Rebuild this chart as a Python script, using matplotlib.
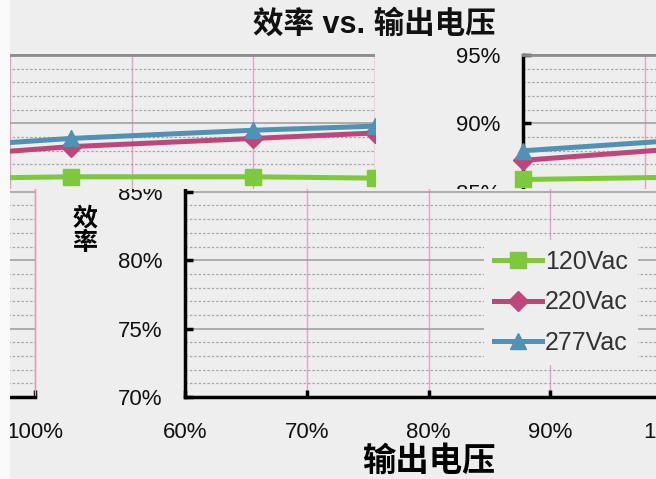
import matplotlib
matplotlib.use('Agg')
import matplotlib.pyplot as plt
from matplotlib.patches import Rectangle
from matplotlib.text import Text
from matplotlib.transforms import Bbox
from matplotlib.ticker import FixedLocator, MultipleLocator, FuncFormatter

# ---- data ----
load_pct = [60, 75, 90, 100]
eff_120 = [85.9, 86.1, 86.1, 86.0]
eff_220 = [87.3, 88.3, 88.9, 89.3]
eff_277 = [88.0, 88.9, 89.5, 89.8]
series_labels = ['120Vac', '220Vac', '277Vac']
x_ticks = [60, 70, 80, 90, 100]
y_ticks = [70, 75, 80, 85, 90, 95]
title = '效率 vs. 输出电压'
x_title = '输出电压'
y_title = '效\n率'

plt.rcParams['font.family'] = ['Liberation Sans', 'Noto Sans CJK SC', 'DejaVu Sans']

W, H = 656, 479
BG = '#eeeeee'
fig = plt.figure(figsize=(W / 100, H / 100), dpi=100, facecolor=BG)

colors = ['#7dc83c', '#be467a', '#5091b4']
markers = ['s', 'D', '^']
msizes = [12, 10, 12]
series = [eff_120, eff_220, eff_277]


def region(x0, y0, x1, y1):
    """clip rectangle given in top-origin pixel coordinates"""
    rect = Rectangle((x0 / W, 1 - y1 / H), (x1 - x0) / W, (y1 - y0) / H,
                     transform=fig.transFigure, facecolor='none', edgecolor='none')
    bbox = Bbox.from_extents(x0, H - y1, x1, H - y0)
    return rect, bbox


def make_axes(shift, with_legend=False):
    ax = fig.add_axes([(185 + shift) / W, 82 / H, 487 / W, 342 / H])
    ax.set_facecolor(BG)
    for vals, lab, c, m, ms in zip(series, series_labels, colors, markers, msizes):
        ax.plot(load_pct, vals, color=c, lw=3.6, marker=m, markersize=ms,
                markeredgecolor=c, label=lab, zorder=5)
    ax.set_xlim(60, 100)
    ax.set_ylim(70, 95)
    ax.xaxis.set_major_locator(FixedLocator(x_ticks))
    ax.yaxis.set_major_locator(FixedLocator(y_ticks))
    ax.yaxis.set_minor_locator(MultipleLocator(1))
    pct = FuncFormatter(lambda v, p: f'{v:.0f}%')
    ax.xaxis.set_major_formatter(pct)
    ax.yaxis.set_major_formatter(pct)
    ax.grid(which='major', axis='y', color='#a0a0a0', lw=1.2, ls='-')
    ax.grid(which='minor', axis='y', color='#a8a8a8', lw=0.9, ls=(0, (2, 1.5)))
    ax.grid(which='major', axis='x', color='#e8a0c8', lw=1.0, ls='-')
    ax.set_axisbelow(True)
    ax.tick_params(axis='both', which='major', direction='in', color='black',
                   labelsize=16, labelcolor='#111111')
    ax.tick_params(axis='y', which='major', length=6, width=2.5, pad=16)
    ax.tick_params(axis='x', which='major', length=5, width=2.5, pad=18)
    ax.tick_params(axis='y', which='minor', length=0)
    ax.spines['left'].set_color('black')
    ax.spines['left'].set_linewidth(2.5)
    ax.spines['bottom'].set_color('black')
    ax.spines['bottom'].set_linewidth(2.5)
    ax.spines['top'].set_color('#8c8c8c')
    ax.spines['top'].set_linewidth(2)
    ax.spines['right'].set_color('#e0a0b0')
    ax.spines['right'].set_linewidth(1)
    ax.set_xlabel(x_title, fontsize=24, fontweight='bold', labelpad=2)
    ax.set_ylabel(y_title, fontsize=18, fontweight='bold', rotation=0,
                  linespacing=1.0, va='center', ha='center')
    ax.yaxis.set_label_coords((85 - 185) / 487, (479 - 231 - 82) / 342)
    if with_legend:
        ax.legend(loc='upper left', bbox_to_anchor=(484 / W, 1 - 240 / H),
                  bbox_transform=fig.transFigure, borderaxespad=0,
                  fontsize=18, handlelength=1.9, handletextpad=0.15,
                  labelspacing=0.65, borderpad=0.4, frameon=True,
                  facecolor=BG, edgecolor='none', fancybox=False,
                  framealpha=1, labelcolor='#333333')
    return ax


# main chart (lower band) plus the displaced tiles seen in the reference
ax_main = make_axes(0, with_legend=True)
ax_up_left = make_axes(-297)
ax_up_right = make_axes(338)
ax_low_left = make_axes(-637)

clips = [
    (ax_main, region(68, 189, W, H)),
    (ax_up_left, region(10, 42, 375, 189)),
    (ax_up_right, region(375, 42, W, 189)),
    (ax_low_left, region(10, 189, 68, H)),
]

fig.text(374 / W, 1 - 25 / H, title, ha='center', va='center',
         fontsize=22, fontweight='bold', color='#111111')

fig.patches.append(Rectangle((0, 0), 10 / W, 1, transform=fig.transFigure,
                             facecolor='#fafafa', edgecolor='none', zorder=-1))

fig.canvas.draw()
renderer = fig.canvas.get_renderer()
for ax, (rect, bbox) in clips:
    for art in ax.findobj():
        if art is ax:
            continue
        art.set_clip_path(rect)
    ax.patch.set_clip_path(rect)
    for t in ax.findobj(Text):
        if not t.get_text():
            continue
        bb = t.get_window_extent(renderer)
        if not bb.overlaps(bbox):
            t.set_visible(False)

fig.savefig('out.png', dpi=100, facecolor=BG)
